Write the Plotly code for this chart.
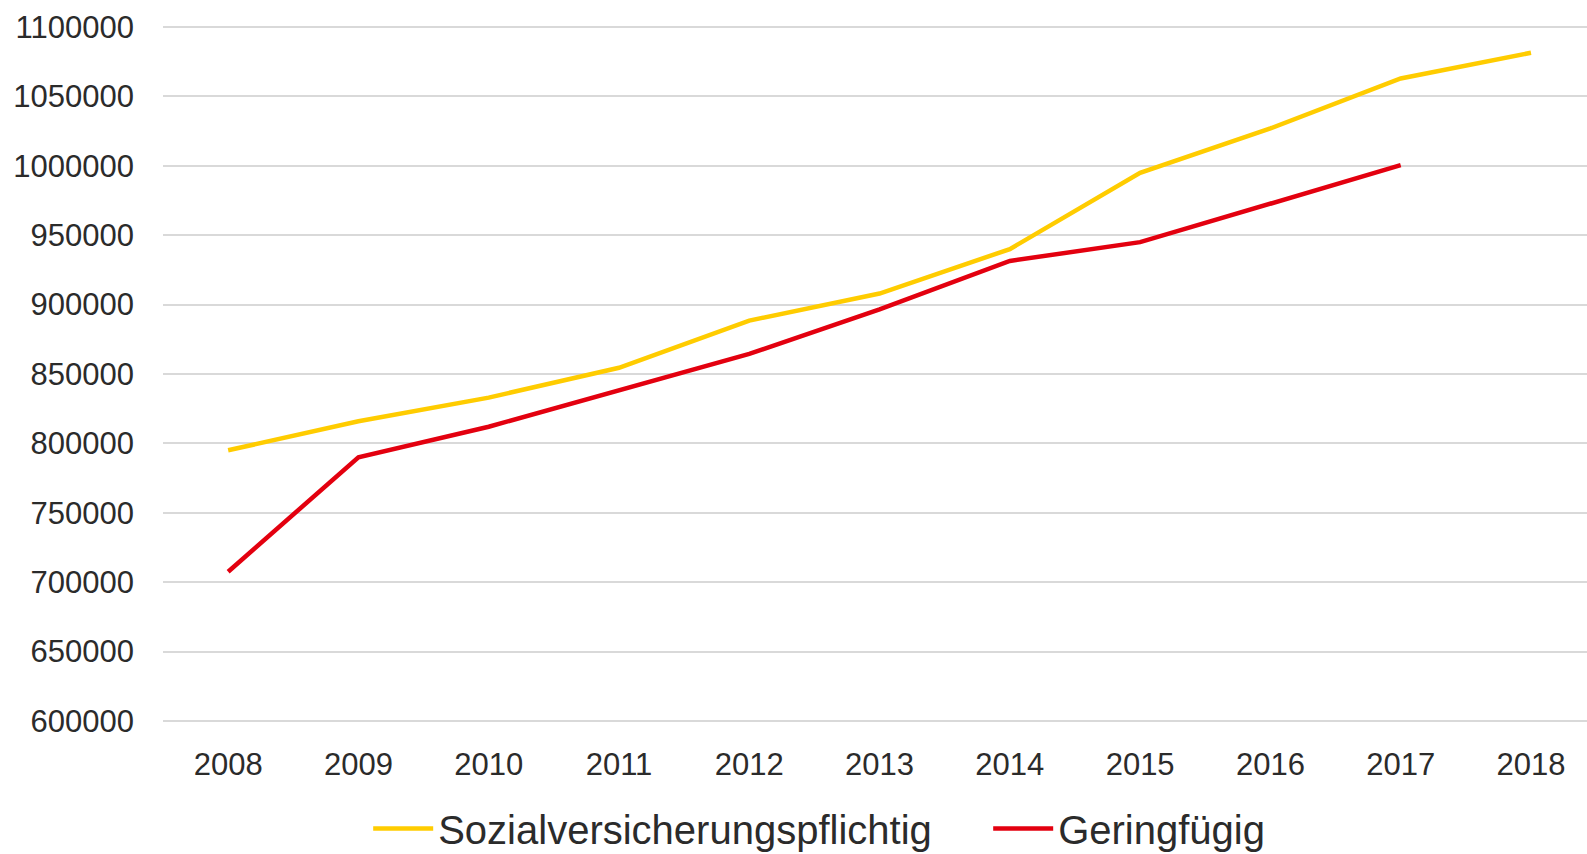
import plotly.graph_objs as go

years = ['2008', '2009', '2010', '2011', '2012', '2013', '2014', '2015', '2016', '2017', '2018']

sozial = [795000, 816000, 833000, 854500, 888500, 908000, 940000, 995000, 1027000, 1063000, 1081500]
gering = [707500, 790000, 812000, 838500, 864500, 896500, 931500, 945000, 972500, 1000500]

font_name = 'Liberation Sans'
text_col = '#2b2b2b'

fig = go.Figure()

fig.add_trace(
    go.Scatter(
        x=years,
        y=sozial,
        name='Sozialversicherungspflichtig',
        mode='lines',
        line=dict(color='#FFCC00', width=4.5),
    )
)
fig.add_trace(
    go.Scatter(
        x=years[:len(gering)],
        y=gering,
        name='Geringfügig',
        mode='lines',
        line=dict(color='#E3000F', width=4.5),
    )
)

fig.update_layout(
    width=1587,
    height=854,
    margin=dict(l=163, r=0, t=25, b=131),
    plot_bgcolor='white',
    paper_bgcolor='white',
    font=dict(family=font_name, size=31, color=text_col),
    showlegend=True,
    legend=dict(
        orientation='h',
        xref='container',
        x=0.232,
        xanchor='left',
        yref='container',
        y=0.03,
        yanchor='middle',
        font=dict(size=40, color=text_col),
        itemwidth=60,
        entrywidth=545,
        traceorder='normal',
    ),
)

fig.update_xaxes(
    type='category',
    range=[-0.5, 10.43],
    showgrid=False,
    showline=False,
    zeroline=False,
    ticks='',
    ticklabelstandoff=20,
)
fig.update_yaxes(
    range=[598500, 1101500],
    tickvals=list(range(600000, 1100001, 50000)),
    tickformat='d',
    showgrid=True,
    gridcolor='#d9d9d9',
    gridwidth=1.5,
    zeroline=False,
    showline=False,
    ticks='',
    ticklabelstandoff=28,
)

fig.write_html('out.html', config={'displayModeBar': False},
               post_script="document.body.style.margin='0';")
